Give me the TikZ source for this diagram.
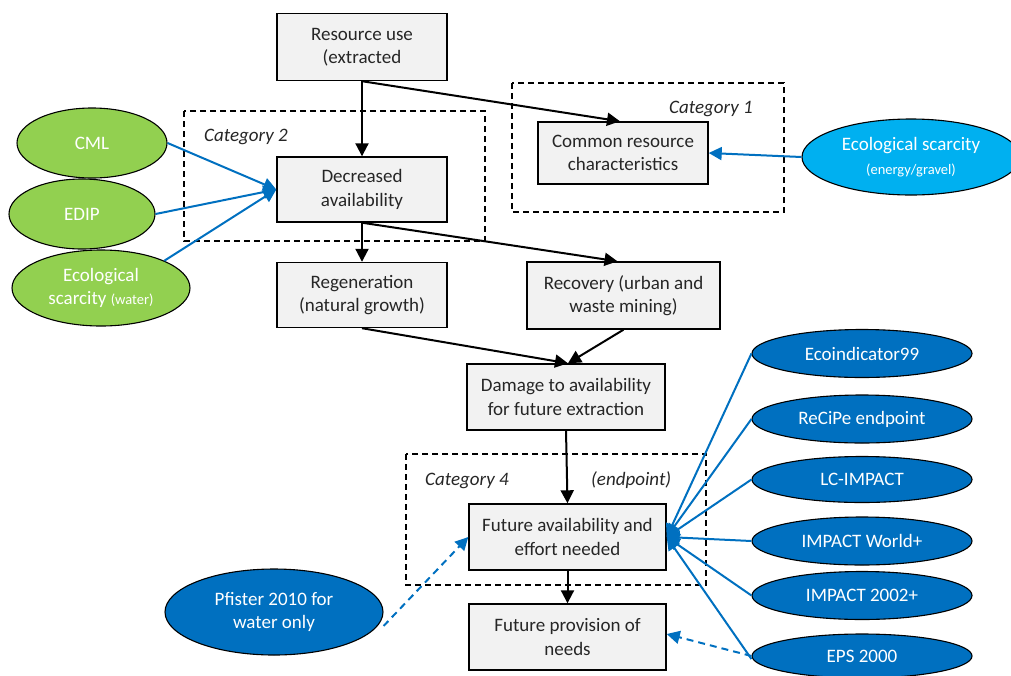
\documentclass[tikz,border=0pt]{standalone}
\usepackage{fontspec}
\setmainfont{Carlito}
\usetikzlibrary{arrows.meta,shapes.geometric}
\definecolor{boxfill}{HTML}{F2F2F2}
\definecolor{greenfill}{HTML}{92D050}
\definecolor{lbluefill}{HTML}{00B0F0}
\definecolor{dbluefill}{HTML}{0070C0}
\definecolor{txtgray}{HTML}{262626}
\newcommand\smalltxt{\fontsize{14.5}{17}\selectfont}
\begin{document}
\begin{tikzpicture}[x=1pt,y=-1pt,
  every node/.style={font=\fontsize{19}{23.5}\selectfont, inner sep=0pt},
  procbox/.style={draw=black, line width=1.4pt, fill=boxfill, align=center, text=txtgray},
  catbox/.style={draw=black, line width=1.3pt, dash pattern=on 6pt off 4pt},
  catlabel/.style={font=\fontsize{19}{23.5}\selectfont\itshape, text=txtgray, anchor=base west},
  oval/.style={ellipse, draw=black, line width=1.1pt, text=white, align=center},
  greenoval/.style={oval, fill=greenfill},
  lblueoval/.style={oval, fill=lbluefill},
  dblueoval/.style={oval, fill=dbluefill},
  flow/.style={draw=black, line width=2pt, -{Triangle[length=13pt,width=13pt]}},
  bluelink/.style={draw=dbluefill, line width=2pt},
  bluearrow/.style={bluelink, -{Triangle[length=13pt,width=13pt]}},
  bluedash/.style={bluearrow, dash pattern=on 7pt off 5pt}
]
\useasboundingbox (0,0) rectangle (1011,675);

% dashed category frames
\draw[catbox] (184,111) rectangle (485,241);
\draw[catbox] (512,83) rectangle (784,212);
\draw[catbox] (406,454) rectangle (706,585);
\node[catlabel] (cat2) at (204,141) {Category 2};
\node[catlabel] (cat1) at (669,113) {Category 1};
\node[catlabel] (cat4) at (425,485) {Category 4};
\node[catlabel] (cat4b) at (591,485) {(endpoint)};

% process boxes
\node[procbox, minimum width=170pt, minimum height=67pt] (res) at (362,47) {Resource use\\(extracted};
\node[procbox, minimum width=170pt, minimum height=65pt] (dec) at (362,189.5) {Decreased\\availability};
\node[procbox, minimum width=170pt, minimum height=62pt] (com) at (623,153) {Common resource\\characteristics};
\node[procbox, minimum width=170pt, minimum height=65pt] (reg) at (362,295) {Regeneration\\(natural growth)};
\node[procbox, minimum width=193pt, minimum height=67pt] (rec) at (623.5,295.5) {Recovery (urban and\\waste mining)};
\node[procbox, minimum width=198pt, minimum height=66pt] (dam) at (566,397) {Damage to availability\\for future extraction};
\node[procbox, minimum width=197pt, minimum height=66pt] (fut) at (567.5,537) {Future availability and\\effort needed};
\node[procbox, minimum width=197pt, minimum height=66pt] (pro) at (567.5,637) {Future provision of\\needs};

% ovals
\node[greenoval, minimum width=150pt, minimum height=70pt] (cml) at (92,143) {CML};
\node[greenoval, minimum width=146pt, minimum height=70pt] (edip) at (82,214) {EDIP};
\node[greenoval, minimum width=178pt, minimum height=76pt] (ecw) at (101,288) {Ecological\\scarcity {\smalltxt(water)}};
\node[lblueoval, minimum width=218pt, minimum height=76pt] (ece) at (911,157) {Ecological scarcity\\{\smalltxt(energy/gravel)}};
\node[dblueoval, minimum width=220pt, minimum height=48pt] (eco) at (862,353.5) {Ecoindicator99};
\node[dblueoval, minimum width=220pt, minimum height=48pt] (rcp) at (862,419) {ReCiPe endpoint};
\node[dblueoval, minimum width=220pt, minimum height=46pt] (lci) at (862,479.5) {LC-IMPACT};
\node[dblueoval, minimum width=220pt, minimum height=48pt] (imw) at (862,541) {IMPACT World+};
\node[dblueoval, minimum width=220pt, minimum height=48pt] (imp) at (862,595.5) {IMPACT 2002+};
\node[dblueoval, minimum width=220pt, minimum height=44pt] (eps) at (862,656) {EPS 2000};
\node[dblueoval, minimum width=218pt, minimum height=86pt] (pfi) at (274,612) {Pfister 2010 for\\water only};

% black flow arrows
\draw[flow] (res.south) -- (dec.north);
\draw[flow] (res.south) -- ([xshift=-3pt]com.north);
\draw[flow] (dec.south) -- ([xshift=-6pt]rec.north);
\draw[flow] (dec.south) -- (reg.north);
\draw[flow] (reg.south) -- ([xshift=2pt]dam.north);
\draw[flow] (rec.south) -- ([xshift=2pt]dam.north);
\draw[flow] (dam.south) -- (fut.north);
\draw[flow] (fut.south) -- (pro.north);

% blue links
\draw[bluearrow] (cml.east) -- (dec.west);
\draw[bluearrow] (edip.east) -- (dec.west);
\draw[bluearrow] (ecw.north east) -- (dec.west);
\draw[bluearrow] (ece.west) -- (com.east);
\draw[bluearrow] (eco.west) -- (fut.east);
\draw[bluearrow] (rcp.west) -- (fut.east);
\draw[bluearrow] (lci.west) -- (fut.east);
\draw[bluearrow] (imw.west) -- (fut.east);
\draw[bluearrow] (imp.west) -- (fut.east);
\draw[bluearrow] ([yshift=-3pt]eps.west) -- (fut.east);
\draw[bluedash] (eps.west) -- ([yshift=3pt]pro.east);
\draw[bluedash] ([yshift=-14pt]pfi.east) -- (fut.west);
\end{tikzpicture}
\end{document}
